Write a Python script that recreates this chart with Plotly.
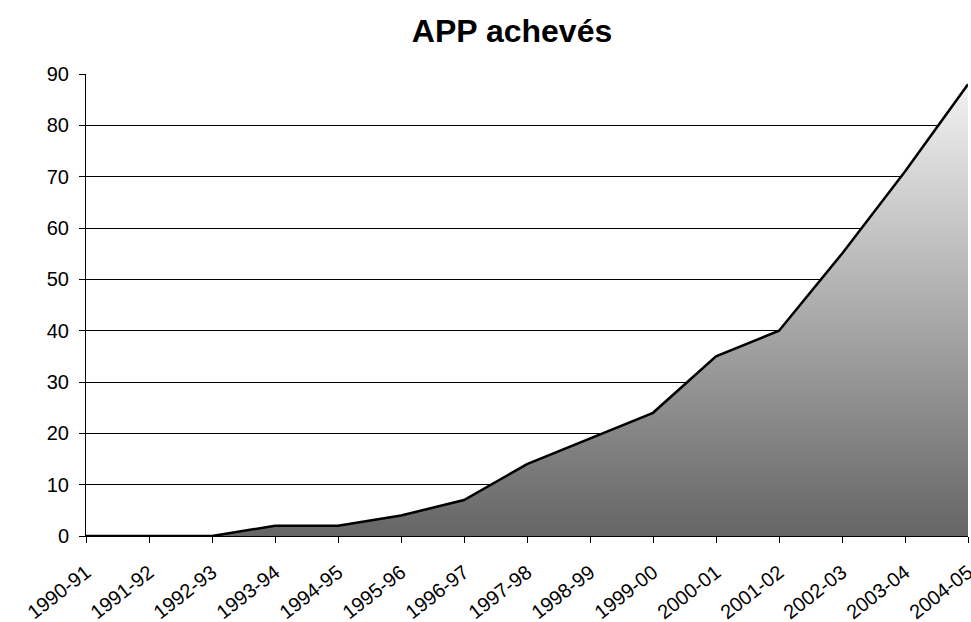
import plotly.graph_objects as go

seasons = ["1990-91", "1991-92", "1992-93", "1993-94", "1994-95", "1995-96",
           "1996-97", "1997-98", "1998-99", "1999-00", "2000-01", "2001-02",
           "2002-03", "2003-04", "2004-05"]
app_acheves = [0, 0, 0, 2, 2, 4, 7, 14, 19, 24, 35, 40, 55, 71, 88]
y_ticks = [0, 10, 20, 30, 40, 50, 60, 70, 80, 90]

font = "Liberation Sans, Arial, sans-serif"

fig = go.Figure()
fig.add_trace(go.Scatter(
    x=seasons,
    y=app_acheves,
    mode="lines",
    line=dict(color="black", width=2.5),
    fill="tozeroy",
    fillgradient=dict(
        type="vertical",
        colorscale=[[0, "#656565"], [1, "#f2f2f2"]],
        start=0,
        stop=max(app_acheves),
    ),
    hoverinfo="x+y",
))

fig.update_layout(
    width=971,
    height=622,
    margin=dict(l=86, r=3, t=74, b=86),
    paper_bgcolor="white",
    plot_bgcolor="white",
    showlegend=False,
    title=dict(
        text="<b>APP achevés</b>",
        x=512 / 971,
        xanchor="center",
        y=1 - 31 / 622,
        yanchor="middle",
        font=dict(family=font, size=32, color="black"),
    ),
    font=dict(family=font, size=20, color="black"),
)

fig.update_xaxes(
    type="category",
    range=[0, len(seasons) - 1],
    showgrid=False,
    showline=True,
    linecolor="black",
    linewidth=1,
    ticks="outside",
    ticklen=6,
    tickcolor="black",
    tickangle=-38,
    ticklabelstandoff=10,
    tickfont=dict(family=font, size=20, color="black"),
    automargin=False,
    zeroline=False,
)

fig.update_yaxes(
    range=[0, 90],
    tickvals=y_ticks,
    showgrid=True,
    gridcolor="black",
    gridwidth=1,
    showline=True,
    linecolor="black",
    linewidth=1,
    ticks="outside",
    ticklen=6,
    tickcolor="black",
    ticklabelstandoff=6,
    tickfont=dict(family=font, size=20, color="black"),
    zeroline=False,
    automargin=False,
)

fig.write_html("out.html")
